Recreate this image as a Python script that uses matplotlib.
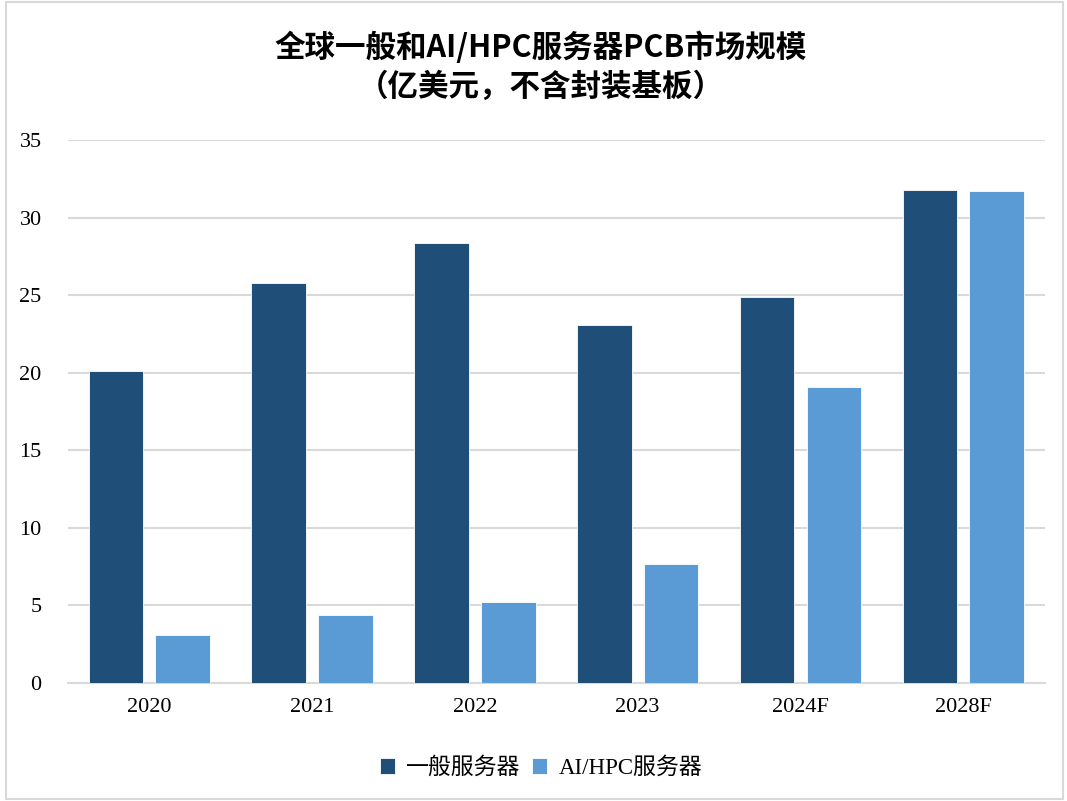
import matplotlib
matplotlib.use("Agg")
import matplotlib.pyplot as plt
from matplotlib.patches import Rectangle
import numpy as np

plt.rcParams["font.family"] = ["Liberation Serif", "Noto Sans CJK SC"]

# ----------------------------
# Data (亿美元)
# ----------------------------
years = ["2020", "2021", "2022", "2023", "2024F", "2028F"]
general = [20.1, 25.8, 28.4, 23.1, 24.9, 31.8]
ai_hpc = [3.1, 4.4, 5.2, 7.7, 19.1, 31.7]
series_names = ["一般服务器", "AI/HPC服务器"]

COLOR_DARK = "#1F4E79"
COLOR_LIGHT = "#5B9BD5"
GRID_GRAY = "#D9D9D9"

fig = plt.figure(figsize=(10.67, 8.01), dpi=100)
ax = fig.add_axes([0.0637, 0.1473, 0.9153, 0.6777])

x = np.arange(len(years))
w = 0.335
ax.bar(x - 0.205, general, width=w, color=COLOR_DARK, edgecolor="white",
       linewidth=0.6, label=series_names[0], zorder=3)
ax.bar(x + 0.205, ai_hpc, width=w, color=COLOR_LIGHT, edgecolor="white",
       linewidth=0.6, label=series_names[1], zorder=3)

ax.set_xlim(-0.5, len(years) - 0.5)
ax.set_ylim(0, 35)
ax.set_yticks(range(0, 36, 5))
ax.set_xticks(x)
ax.set_xticklabels(years)
ax.tick_params(axis="both", length=0, labelsize=16, colors="black")
ax.tick_params(axis="y", pad=19)
ax.tick_params(axis="x", pad=11)

ax.grid(axis="y", color=GRID_GRAY, linewidth=1.5, zorder=0)
for s in ["top", "right", "left"]:
    ax.spines[s].set_visible(False)
ax.spines["bottom"].set_color(GRID_GRAY)
ax.spines["bottom"].set_linewidth(1.5)

fig.text(0.507, 0.916, "全球一般和AI/HPC服务器PCB市场规模\n（亿美元，不含封装基板）",
         ha="center", va="center", fontsize=22, fontweight="bold",
         family=["Noto Sans CJK SC", "DejaVu Sans"], linespacing=1.25)

fig.legend(loc="center", bbox_to_anchor=(0.507, 0.041), ncol=2, frameon=False,
           fontsize=16.5, handlelength=0.65, handleheight=0.65, handletextpad=0.5,
           columnspacing=0.5)

# outer frame
fig.patches.append(Rectangle((0.006, 0.003), 0.99, 0.994, transform=fig.transFigure,
                             fill=False, edgecolor=GRID_GRAY, linewidth=1.5))

fig.savefig("out.png", dpi=100)
